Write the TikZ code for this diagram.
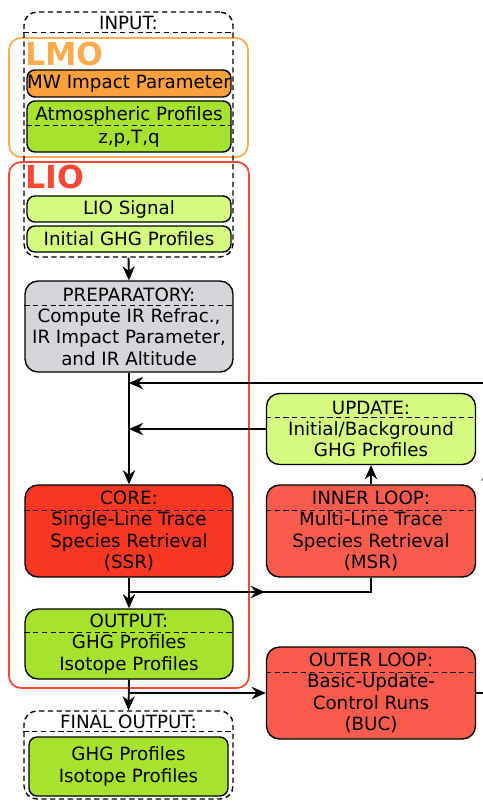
\documentclass[tikz,border=0pt]{standalone}
\usepackage{fontspec}
\setmainfont{DejaVu Sans}
\usetikzlibrary{arrows.meta,decorations.markings}

\definecolor{lmoorange}{RGB}{251,172,80}
\definecolor{mworange}{RGB}{250,160,60}
\definecolor{liored}{RGB}{247,72,52}
\definecolor{darkgreen}{RGB}{166,226,46}
\definecolor{lightgreen}{RGB}{212,250,128}
\definecolor{prepgray}{RGB}{214,214,218}
\definecolor{corered}{RGB}{249,56,36}
\definecolor{loopred}{RGB}{249,92,76}

\tikzset{
  box/.style={draw=black, line width=0.8pt, rounded corners=0.26cm, inner sep=0pt,
    align=center, font=\fontsize{10.4}{12.1}\selectfont},
  smallbox/.style={box, rounded corners=0.16cm, minimum width=4.08cm},
  container/.style={draw, line width=1pt, rounded corners=0.24cm},
  inputbox/.style={draw=black, line width=0.8pt, dash pattern=on 3pt off 2pt,
    rounded corners=0.26cm},
  divider/.style={line width=0.6pt, dash pattern=on 3pt off 2pt},
  boxtitle/.style={inner sep=0pt, font=\fontsize{10.4}{12.1}\selectfont},
  tag/.style={anchor=base west, inner sep=0pt, font=\fontsize{18}{20}\bfseries\selectfont},
  link/.style={line width=1.1pt},
  flow/.style={link, -{Stealth[length=8pt,width=7pt]}},
  midflow/.style={link, postaction={decorate},
    decoration={markings, mark=at position #1 with {\arrow{Stealth[length=8pt,width=7pt]}}}}
}

\begin{document}
\begin{tikzpicture}[x=0.02cm, y=-0.02cm]
    \useasboundingbox (0,0) rectangle (483,801);
    \clip (0,0) rectangle (483,801);
    % lmo en lio
    \node[container, draw=lmoorange, minimum width=4.78cm, minimum height=2.38cm] (lmo) at (128.5,97.5) {};
    \node[tag, text=lmoorange] (lmotag) at (25,65) {LMO};
    \node[container, draw=liored, minimum width=4.8cm, minimum height=10.52cm] (lio) at (129,425) {};
    \node[tag, text=liored] (liotag) at (25,188) {LIO};
    % input
    \node[inputbox, minimum width=4.18cm, minimum height=4.9cm] (input) at (128.5,134.5) {};
    \node[boxtitle] (inputtitle) at (128.5,23) {INPUT:};
    \draw[divider] ([yshift=-0.42cm]input.north west) -- ([yshift=-0.42cm]input.north east);
    \node[smallbox, fill=mworange, minimum height=0.54cm] (mw) at (129,83.5) {MW Impact Parameter};
    \node[smallbox, fill=darkgreen, minimum height=1.02cm] (atmos) at (129,126.5) {Atmospheric Profiles\\[1pt]z,p,T,q};
    \draw[divider] ([yshift=-0.5cm]atmos.north west) -- ([yshift=-0.5cm]atmos.north east);
    \node[smallbox, fill=lightgreen, minimum height=0.52cm] (signal) at (129,209) {LIO Signal};
    \node[smallbox, fill=lightgreen, minimum height=0.52cm] (ghg) at (129,239) {Initial GHG Profiles};
    % preparatory
    \node[box, fill=prepgray, minimum width=4.16cm, minimum height=1.82cm] (prep) at (129,326.5)
        {PREPARATORY:\\Compute IR Refrac.,\\IR Impact Parameter,\\and IR Altitude};
    \draw[divider] ([yshift=-0.5cm]prep.north west) -- ([yshift=-0.5cm]prep.north east);
    % core
    \node[box, fill=corered, minimum width=4.16cm, minimum height=1.84cm] (core) at (129,531)
        {CORE:\\Single-Line Trace\\Species Retrieval\\(SSR)};
    \draw[divider] ([yshift=-0.52cm]core.north west) -- ([yshift=-0.52cm]core.north east);
    % output
    \node[box, fill=darkgreen, minimum width=4.16cm, minimum height=1.4cm] (output) at (129,644)
        {OUTPUT:\\GHG Profiles\\Isotope Profiles};
    \draw[divider] ([yshift=-0.48cm]output.north west) -- ([yshift=-0.48cm]output.north east);
    % update
    \node[box, fill=lightgreen, minimum width=4.18cm, minimum height=1.42cm] (update) at (371,429)
        {UPDATE:\\Initial/Background\\GHG Profiles};
    \draw[divider] ([yshift=-0.5cm]update.north west) -- ([yshift=-0.5cm]update.north east);
    % inner loop
    \node[box, fill=loopred, minimum width=4.18cm, minimum height=1.84cm] (inner) at (371,531)
        {INNER LOOP:\\Multi-Line Trace\\Species Retrieval\\(MSR)};
    \draw[divider] ([yshift=-0.52cm]inner.north west) -- ([yshift=-0.52cm]inner.north east);
    % outer loop
    \node[box, fill=loopred, minimum width=4.18cm, minimum height=1.84cm] (outer) at (371,693)
        {OUTER LOOP:\\Basic-Update-\\Control Runs\\(BUC)};
    \draw[divider] ([yshift=-0.52cm]outer.north west) -- ([yshift=-0.52cm]outer.north east);
    % final output
    \node[inputbox, minimum width=4.18cm, minimum height=1.76cm] (final) at (128.5,755) {};
    \node[boxtitle] (finaltitle) at (128.5,722) {FINAL OUTPUT:};
    \draw[divider] ([yshift=-0.42cm]final.north west) -- ([yshift=-0.42cm]final.north east);
    \node[smallbox, fill=darkgreen, minimum width=3.98cm, minimum height=1.18cm] (finalprof) at (128.5,766.5)
        {GHG Profiles\\Isotope Profiles};
    % pijlen
    \coordinate (coreout) at (129,592);
    \coordinate (outputout) at (129,693);
    \coordinate (loopse) at (488,693);
    \coordinate (loopne) at (488,383);
    \draw[flow] (input.south) -- (prep.north);
    \draw[flow] (prep.south) -- (core.north);
    \draw[flow] (loopne) -- (loopne -| prep.south);
    \draw[flow] (update.west) -- (update.west -| prep.south);
    \draw[flow] (inner.north) -- (update.south);
    \draw[flow] (core.south) -- (output.north);
    \draw[midflow=0.53] (coreout) -- (coreout -| inner.south) -- (inner.south);
    \draw[flow] (output.south) -- (final.north);
    \draw[flow] (outputout) -- (outer.west);
    \draw[link] (outer.east) -- (loopse);
    \draw[midflow=0.73] (loopse) -- (loopne);
\end{tikzpicture}
\end{document}
